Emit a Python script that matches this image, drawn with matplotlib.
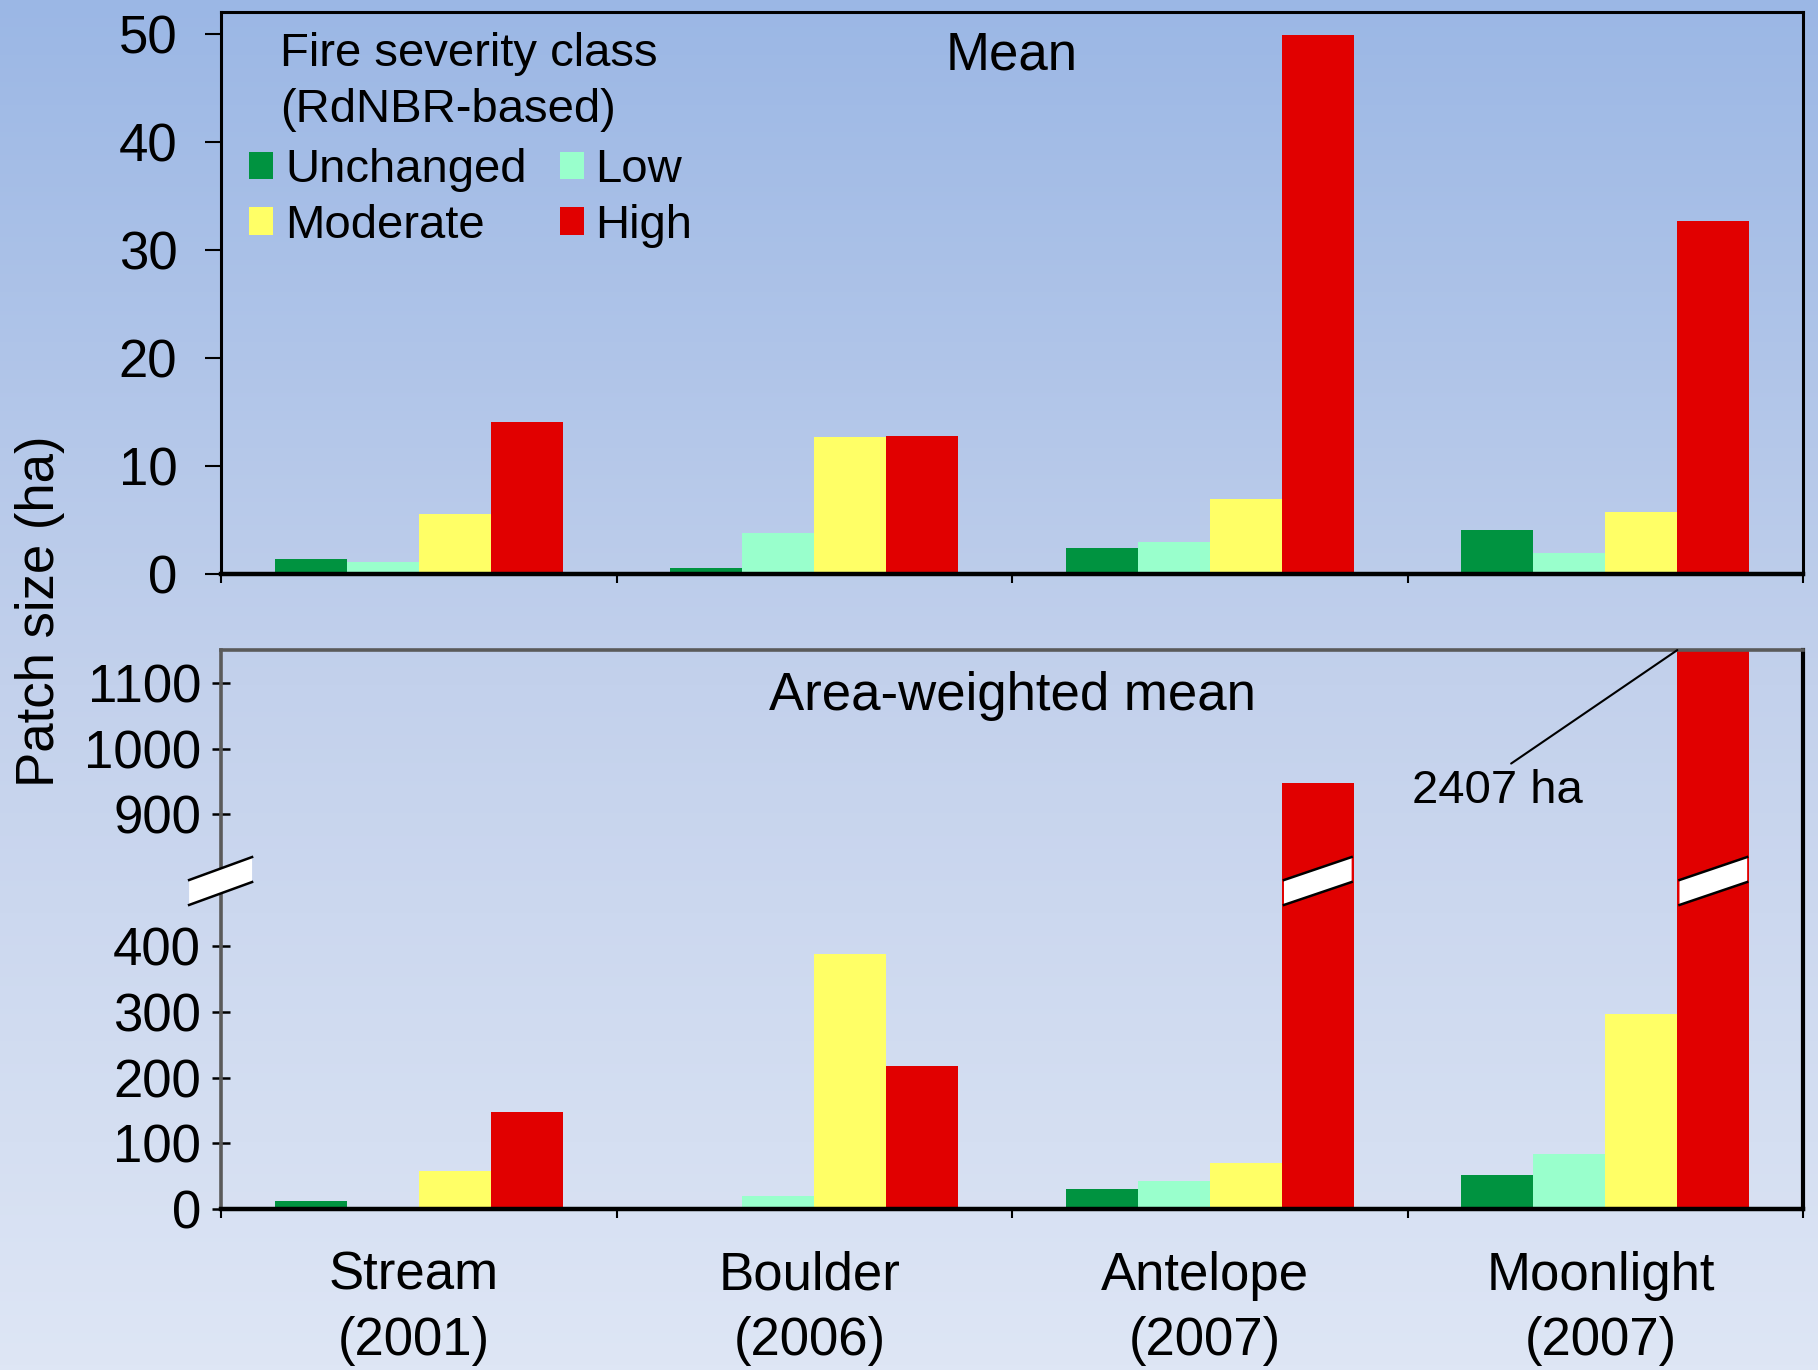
import matplotlib
matplotlib.use('Agg')
import matplotlib.pyplot as plt
from matplotlib.patches import Polygon
from matplotlib.transforms import blended_transform_factory
import numpy as np

plt.rcParams['font.family'] = ['Liberation Sans', 'DejaVu Sans']

fires = ['Stream\n(2001)', 'Boulder\n(2006)', 'Antelope\n(2007)', 'Moonlight\n(2007)']
classes = ['Unchanged', 'Low', 'Moderate', 'High']
colors = ['#009340', '#99ffcc', '#ffff66', '#e10000']

# mean patch size (ha), one list per severity class
mean_unchanged = [1.4, 0.6, 2.4, 4.1]
mean_low = [1.1, 3.8, 2.95, 1.95]
mean_moderate = [5.6, 12.7, 6.95, 5.75]
mean_high = [14.1, 12.8, 49.9, 32.7]

# area-weighted mean patch size (ha)
aw_unchanged = [12.5, 3, 30, 51]
aw_low = [2.5, 20, 43, 84]
aw_moderate = [58, 388, 70, 296]
aw_high = [147, 218, 948, 2407]

mean_vals = [mean_unchanged, mean_low, mean_moderate, mean_high]
aw_vals = [aw_unchanged, aw_low, aw_moderate, aw_high]

W = 0.182
offsets = np.array([-1.5, -0.5, 0.5, 1.5]) * W
x = np.arange(len(fires))


def fwd(y):
    y = np.asarray(y, float)
    return np.where(y < 500, y, np.where(y > 800, y - 300, 500.0))


def inv(t):
    t = np.asarray(t, float)
    return np.where(t <= 500, t, t + 300)


fig = plt.figure(figsize=(18.18, 13.70), dpi=100)

# gradient background
bg = fig.add_axes([0, 0, 1, 1], zorder=-10)
yy = np.linspace(0, 1, 300)
stops_y = [0, 0.5, 1]
top_c = np.array([155, 183, 229]) / 255
mid_c = np.array([195, 209, 236]) / 255
bot_c = np.array([222, 230, 245]) / 255
grad = np.array([np.interp(yy, stops_y, [top_c[k], mid_c[k], bot_c[k]]) for k in range(3)]).T
bg.imshow(grad[:, None, :], aspect='auto', extent=[0, 1, 1, 0])
bg.axis('off')

ax1 = fig.add_axes([0.1216, 0.581, 0.8702, 0.4102])
ax2 = fig.add_axes([0.1216, 0.1175, 0.8702, 0.408])
for ax in (ax1, ax2):
    ax.set_facecolor('none')

# ---- top panel: mean ----
bars = []
for k in range(4):
    b = ax1.bar(x + offsets[k], mean_vals[k], W, color=colors[k], linewidth=0, label=classes[k])
    bars.append(b)
ax1.set_xlim(-0.5, 3.5)
ax1.set_ylim(0, 52)
ax1.set_yticks([0, 10, 20, 30, 40, 50])
ax1.tick_params(axis='y', labelsize=38, direction='out', length=11.5, width=1.5, pad=20)
ax1.set_xticks(np.arange(-0.5, 4, 1))
ax1.set_xticklabels([])
ax1.tick_params(axis='x', direction='out', length=6.5, width=1.5)
for s in ['left', 'top', 'right']:
    ax1.spines[s].set_linewidth(2.2)
ax1.spines['bottom'].set_linewidth(3.2)
ax1.text(0.5, 0.922, 'Mean', transform=ax1.transAxes, ha='center', va='center', fontsize=38)

ax1.text(0.0373, 0.875, 'Fire severity class\n(RdNBR-based)', transform=ax1.transAxes,
         ha='left', va='center', fontsize=34, linespacing=1.35)
order = [0, 2, 1, 3]
ax1.legend([bars[i] for i in order], [classes[i] for i in order], ncol=2,
           loc='upper left', bbox_to_anchor=(0.0177, 0.758), frameon=False,
           fontsize=34, borderpad=0, borderaxespad=0, handlelength=0.51,
           handleheight=0.51, handletextpad=0.25, columnspacing=0.7, labelspacing=0.25)

# ---- bottom panel: area-weighted mean, broken axis ----
ax2.set_yscale('function', functions=(fwd, inv))
for k in range(4):
    ax2.bar(x + offsets[k], aw_vals[k], W, color=colors[k], linewidth=0)
ax2.set_xlim(-0.5, 3.5)
ax2.set_ylim(0, 1150)
ax2.set_yticks([0, 100, 200, 300, 400, 900, 1000, 1100])
ax2.set_yticklabels(['0', '100', '200', '300', '400', '900', '1000', '1100'])
ax2.yaxis.set_minor_locator(matplotlib.ticker.NullLocator())
ax2.tick_params(axis='y', labelsize=38, direction='inout', length=13, width=1.8, pad=8)
ax2.set_xticks(x - 0.012)
ax2.set_xticklabels(fires, fontsize=38, linespacing=1.4)
ax2.tick_params(axis='x', length=0, pad=30)
ax2.set_xticks(np.arange(-0.5, 4, 1), minor=True)
ax2.tick_params(axis='x', which='minor', direction='out', length=6.5, width=1.5)
for s in ['left', 'top']:
    ax2.spines[s].set_color('#5a5a5a')
    ax2.spines[s].set_linewidth(2.6)
ax2.spines['right'].set_linewidth(3)
ax2.spines['bottom'].set_linewidth(3.2)
ax2.text(0.5, 0.917, 'Area-weighted mean', transform=ax2.transAxes,
         ha='center', va='center', fontsize=38)


def break_mark(ax, trans, x0, x1):
    ys = [0.544, 0.5886, 0.6297, 0.585]
    poly = Polygon([(x0, ys[0]), (x0, ys[1]), (x1, ys[2]), (x1, ys[3])], closed=True,
                   facecolor='white', edgecolor='none', transform=trans, clip_on=False, zorder=5)
    ax.add_patch(poly)
    ax.plot([x0, x1], [ys[0], ys[3]], color='black', lw=1.8, transform=trans, clip_on=False, zorder=6)
    ax.plot([x0, x1], [ys[1], ys[2]], color='black', lw=1.8, transform=trans, clip_on=False, zorder=6)


break_mark(ax2, ax2.transAxes, -0.0202, 0.0196)
blend = blended_transform_factory(ax2.transData, ax2.transAxes)
for i in (2, 3):
    if aw_high[i] > 800:
        left = x[i] + offsets[3] - W / 2
        break_mark(ax2, blend, left + 0.03 * W, left + 0.97 * W)

ax2.annotate('2407 ha', xy=(x[3] + offsets[3] - W / 2, 1150), xytext=(2.727, 935),
             textcoords='data', ha='center', va='center', fontsize=34,
             arrowprops=dict(arrowstyle='-', color='black', lw=1.5,
                             relpos=(0.53, 1.0), shrinkA=4, shrinkB=0))

fig.text(0.022, 0.554, 'Patch size (ha)', rotation=90, ha='center', va='center', fontsize=38)

fig.savefig('out.png', dpi=100)
